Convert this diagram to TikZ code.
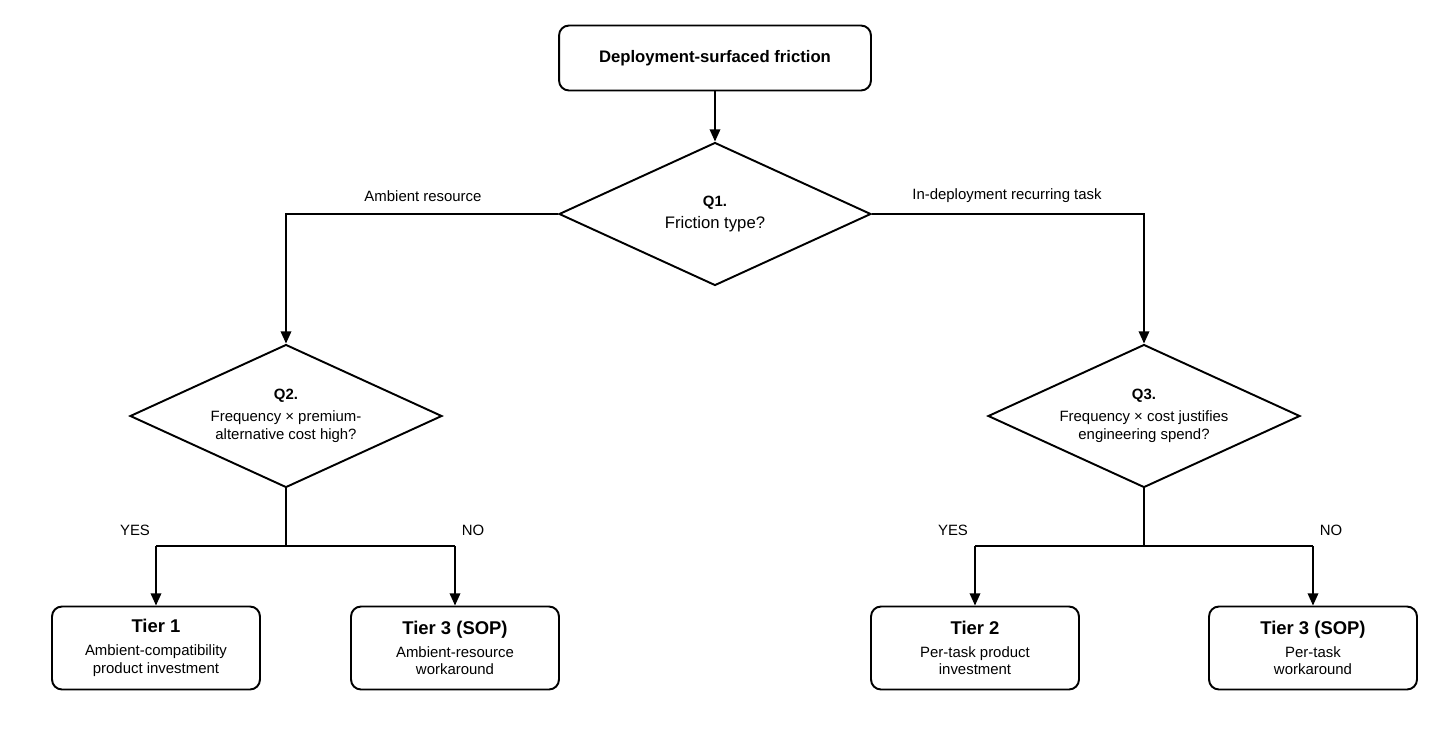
\documentclass[tikz,border=0pt]{standalone}
\usepackage{fontspec}
\setmainfont{Liberation Sans}
\usetikzlibrary{arrows.meta,shapes.geometric}

\tikzset{
    box/.style={draw, line width=1.1pt, rectangle, rounded corners=0.2cm, align=center, inner sep=0cm},
    decision/.style={draw, line width=1.1pt, diamond, shape aspect=2.18, align=center, inner sep=0cm, minimum width=6.24cm, minimum height=2.86cm, font=\fontsize{8.5}{10.5}\selectfont},
    link/.style={line width=1.1pt, >={Triangle[length=7pt,width=6pt]}},
    branchlabel/.style={font=\fontsize{8.5}{10}\selectfont}
}

\begin{document}
\begin{tikzpicture}[x=0.02cm, y=-0.02cm]
            \useasboundingbox (0,0) rectangle (1431,728);

            \node[box, minimum width=6.24cm, minimum height=1.3cm, font=\bfseries\fontsize{9.5}{11}\selectfont] (start) at (715, 58) {Deployment-surfaced friction};

            \node[decision] (q1) at (715, 214) {\textbf{Q1.}\\[2pt]\fontsize{9.5}{11}\selectfont Friction type?};
            \node[decision] (q2) at (286, 416) {\textbf{Q2.}\\[2pt]Frequency × premium-\\alternative cost high?};
            \node[decision] (q3) at (1144, 416) {\textbf{Q3.}\\[2pt]Frequency × cost justifies\\engineering spend?};

            \node[box, minimum width=4.16cm, minimum height=1.66cm, font=\fontsize{8.5}{10}\selectfont] (tier1) at (156, 648) {{\bfseries\fontsize{10.5}{12}\selectfont Tier 1}\\[3pt]Ambient-compatibility\\product investment};
            \node[box, minimum width=4.16cm, minimum height=1.66cm, font=\fontsize{8.5}{10}\selectfont] (tier3a) at (455, 648) {{\bfseries\fontsize{10.5}{12}\selectfont Tier 3 (SOP)}\\[3pt]Ambient-resource\\workaround};
            \node[box, minimum width=4.16cm, minimum height=1.66cm, font=\fontsize{8.5}{10}\selectfont] (tier2) at (975, 648) {{\bfseries\fontsize{10.5}{12}\selectfont Tier 2}\\[3pt]Per-task product\\investment};
            \node[box, minimum width=4.16cm, minimum height=1.66cm, font=\fontsize{8.5}{10}\selectfont] (tier3b) at (1313, 648) {{\bfseries\fontsize{10.5}{12}\selectfont Tier 3 (SOP)}\\[3pt]Per-task\\workaround};

            \coordinate (q2yes) at (156, 546);
            \coordinate (q2no) at (455, 546);
            \coordinate (q3yes) at (975, 546);
            \coordinate (q3no) at (1313, 546);

            \draw[->, link] (start) -- (q1);
            \draw[->, link] (q1.west) -| (q2.north);
            \draw[->, link] (q1.east) -| (q3.north);

            \draw[link] (q2.south) -- (q2.south |- q2yes);
            \draw[link] (q2yes) -- (q2no);
            \draw[->, link] (q2yes) -- (tier1);
            \draw[->, link] (q2no) -- (tier3a);

            \draw[link] (q3.south) -- (q3.south |- q3yes);
            \draw[link] (q3yes) -- (q3no);
            \draw[->, link] (q3yes) -- (tier2);
            \draw[->, link] (q3no) -- (tier3b);

            \node[branchlabel] (lamb) at (423, 196) {Ambient resource};
            \node[branchlabel] (lrec) at (1007, 196) {In-deployment recurring task};
            \node[branchlabel] (lyes2) at (135, 530) {YES};
            \node[branchlabel] (lno2) at (473, 530) {NO};
            \node[branchlabel] (lyes3) at (953, 530) {YES};
            \node[branchlabel] (lno3) at (1331, 530) {NO};
        \end{tikzpicture}
\end{document}
